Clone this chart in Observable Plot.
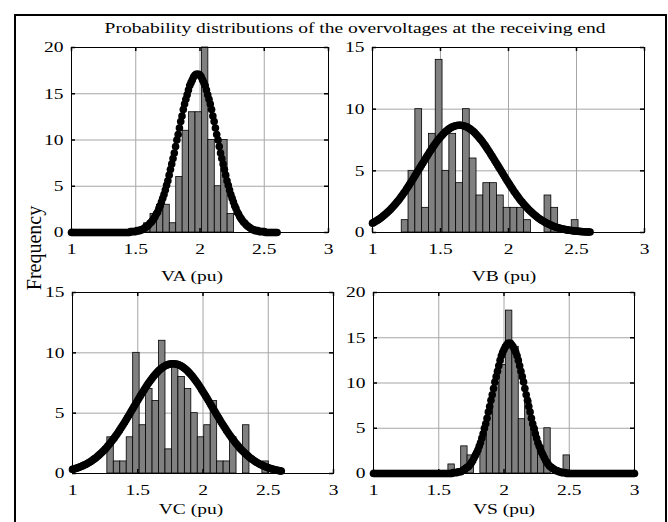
<!DOCTYPE html>
<html>
<head>
<meta charset="utf-8">
<script src="https://cdn.jsdelivr.net/npm/d3@7"></script>
<script src="https://cdn.jsdelivr.net/npm/@observablehq/plot@0.6"></script>
<style>
  html, body { margin: 0; padding: 0; background: #fff; }
  #fig { position: relative; width: 668px; height: 522px; overflow: hidden; background: #fff; }
  #fig svg { position: absolute; left: 0; top: 0; overflow: visible; }
</style>
</head>
<body>
<div id="fig"></div>
<script>
// ---------------- DATA ----------------
const titleText = "Probability distributions of the overvoltages at the receiving end";
const yLabelText = "Frequency";
const panelLabels = ["VA (pu)", "VB (pu)", "VC (pu)", "VS (pu)"];
const xTicks = [1, 1.5, 2, 2.5, 3];
const yTicks20 = [0, 5, 10, 15, 20];
const yTicks15 = [0, 5, 10, 15];

// histogram bin counts (left edge of first bin, bin width, counts)
const vaStart = 1.565, vaWidth = 0.05;
const vaCounts = [1, 2, 3, 3, 1, 6, 11, 13, 13, 20, 10, 5, 10, 2];
const vbStart = 1.215, vbWidth = 0.05;
const vbCounts = [1, 5, 10, 2, 8, 14, 5, 8, 4, 10, 6, 3, 4, 4, 3, 2, 2, 2, 1, 0, 0, 3, 2, 0, 0, 1];
const vcStart = 1.267, vcWidth = 0.0495;
const vcCounts = [3, 1, 1, 3, 10, 4, 7, 6, 11, 2, 9, 8, 7, 5, 3, 4, 6, 1, 1, 3, 0, 4, 0, 0, 1];
const vsStart = 1.574, vsWidth = 0.049;
const vsCounts = [1, 0, 3, 2, 0, 4, 7, 10, 12, 18, 14, 6, 8, 5, 3, 5, 0, 0, 2];

// fitted-curve values read at x = 1.00, 1.01, 1.02, ...
const curveStep = 0.01;
const vaCurve = [
  0,0,0,0,0,0,0,0,0,0, 0,0,0,0,0,0,0,0,0,0, 0,0,0,0,0,0,0,0,0,0, 0,0,0,0,0,0,0,0,0,0, 0,0,0,0,0,0,
  0.1,0.1,0.1,0.1,0.1, 0.2,0.2,0.2,0.3,0.3, 0.4,0.5,0.6,0.7,0.8, 1.0,1.1,1.3,1.5,1.7,
  2.0,2.2,2.6,2.9,3.3, 3.7,4.1,4.6,5.1,5.6, 6.2,6.8,7.4,8.0,8.6, 9.3,10.0,10.6,11.3,12.0,
  12.6,13.3,13.9,14.4,14.9, 15.4,15.9,16.2,16.5,16.8, 17.0,17.1,17.1, 17.1,17.0,
  16.8,16.5,16.2,15.9,15.4, 14.9,14.4,13.9,13.3,12.6, 12.0,11.3,10.6,10.0,9.3, 8.6,8.0,7.4,6.8,6.2,
  5.6,5.1,4.6,4.1,3.7, 3.3,2.9,2.6,2.2,2.0, 1.7,1.5,1.3,1.1,1.0, 0.8,0.7,0.6,0.5,0.4,
  0.3,0.3,0.2,0.2,0.2, 0.1,0.1,0.1,0.1,0.1,
  0,0,0,0,0,0,0,0,0,0
];
const vbCurve = [
  0.76,0.82,0.89,0.95,1.02,1.10,1.18,1.26,1.35,1.44,
  1.54,1.64,1.74,1.85,1.96,2.08,2.21,2.33,2.47,2.60,
  2.74,2.89,3.04,3.20,3.35,3.52,3.69,3.86,4.03,4.20,
  4.38,4.56,4.74,4.92,5.10,5.28,5.46,5.64,5.82,6.00,
  6.17,6.35,6.52,6.69,6.86,7.02,7.18,7.33,7.47,7.61,
  7.74,7.87,7.99,8.10,8.20,8.29,8.38,8.45,8.52,8.57,
  8.62,8.65,8.68,8.69,8.70,
  8.69,8.68,8.65,8.62,8.57,8.52,8.45,8.38,8.29,8.20,
  8.10,7.99,7.87,7.74,7.61,7.47,7.33,7.18,7.02,6.86,
  6.69,6.52,6.35,6.17,6.00,5.82,5.64,5.46,5.28,5.10,
  4.92,4.74,4.56,4.38,4.20,4.03,3.86,3.69,3.52,3.35,
  3.20,3.04,2.89,2.74,2.60,2.47,2.33,2.21,2.08,1.96,
  1.85,1.74,1.64,1.54,1.44,1.35,1.26,1.18,1.10,1.02,
  0.95,0.89,0.82,0.76,0.71,0.65,0.60,0.56,0.51,0.47,
  0.43,0.40,0.37,0.34,0.31,0.28,0.26,0.23,0.21,0.19,
  0.18,0.16,0.15,0.13,0.12,0.11,0.10,0.09,0.08,0.07,
  0.06,0.06,0.05,0.05,0.04,0.04
];
const vcCurve = [
  0.34,0.37,0.40,0.43,0.47,0.51,0.55,0.60,0.65,0.70,
  0.75,0.81,0.87,0.93,1.00,1.07,1.15,1.23,1.31,1.40,
  1.50,1.59,1.69,1.80,1.91,2.02,2.14,2.27,2.40,2.53,
  2.67,2.81,2.95,3.10,3.25,3.41,3.57,3.74,3.91,4.08,
  4.25,4.43,4.61,4.79,4.97,5.15,5.34,5.52,5.70,5.89,
  6.07,6.25,6.43,6.61,6.78,6.95,7.12,7.29,7.45,7.60,
  7.75,7.89,8.03,8.16,8.28,8.40,8.51,8.61,8.70,8.78,
  8.86,8.92,8.97,9.02,9.05,9.08,9.09,
  9.10,
  9.09,9.08,9.05,9.02,8.97,8.92,8.86,8.78,8.70,8.61,
  8.51,8.40,8.28,8.16,8.03,7.89,7.75,7.60,7.45,7.29,
  7.12,6.95,6.78,6.61,6.43,6.25,6.07,5.89,5.70,5.52,
  5.34,5.15,4.97,4.79,4.61,4.43,4.25,4.08,3.91,3.74,
  3.57,3.41,3.25,3.10,2.95,2.81,2.67,2.53,2.40,2.27,
  2.14,2.02,1.91,1.80,1.69,1.59,1.50,1.40,1.31,1.23,
  1.15,1.07,1.00,0.93,0.87,0.81,0.75,0.70,0.65,0.60,
  0.55,0.51,0.47,0.43,0.40,0.37,0.34,0.31,0.28,0.26,
  0.24,0.22,0.20
];
const vsCurve = [
  0,0,0,0,0,0,0,0,0,0, 0,0,0,0,0,0,0,0,0,0, 0,0,0,0,0,0,0,0,0,0,
  0,0,0,0,0,0,0,0,0,0, 0,0,0,0,0,0,0,0,0,0, 0,0,0,0,0,0,0,0,0,0, 0,
  0.1,0.1,0.1,0.1, 0.2,0.2,0.2,0.3,0.4, 0.5,0.6,0.7,0.8,1.0, 1.2,1.4,1.7,2.0,2.3,
  2.6,3.0,3.4,3.9,4.4, 5.0,5.5,6.1,6.8,7.4, 8.1,8.7,9.4,10.1,10.7, 11.3,11.9,12.5,13.0,13.4,
  13.7,14.0,14.2,14.4,
  14.4,
  14.4,14.2,14.0,13.7,13.4, 13.0,12.5,11.9,11.3,10.7, 10.1,9.4,8.7,8.1,7.4, 6.8,6.1,5.5,5.0,4.4,
  3.9,3.4,3.0,2.6,2.3, 2.0,1.7,1.4,1.2,1.0, 0.8,0.7,0.6,0.5,0.4, 0.3,0.3,0.2,0.2,0.1,
  0.1,0.1,0.1,
  0,0,0,0,0,0,0,0,0,0, 0,0,0,0,0,0,0,0,0,0, 0,0,0,0,0,0,0,0,0,0,
  0,0,0,0,0,0,0,0,0,0, 0,0,0,0,0,0,0,0,0,0, 0,0,0
];

// ---------------- LAYOUT ----------------
const W = 668, H = 522;
const FONT = '"Liberation Serif", "Times New Roman", serif';
const FS = 15;       // font size
const SX = 1.3;      // horizontal stretch of the lettering in the reference

function stretchTexts(svg) {
  svg.querySelectorAll("text").forEach(t => {
    const tr = t.getAttribute("transform");
    if (tr) {
      t.setAttribute("transform", tr + ` scale(${SX},1)`);
    } else {
      const x = +(t.getAttribute("x") || 0), y = +(t.getAttribute("y") || 0);
      t.removeAttribute("x"); t.removeAttribute("y");
      t.setAttribute("transform", `translate(${x},${y}) scale(${SX},1)`);
    }
  });
}

function panel({counts, start, width, curve, yMax, yTicks, box}) {
  const bins = counts
    .map((c, i) => ({x1: start + i * width, x2: start + (i + 1) * width, c}))
    .filter(d => d.c > 0);
  const pts = curve.map((y, i) => ({x: 1 + i * curveStep, y}));
  const ph = box.b - box.t, pw = box.r - box.l;
  const svg = Plot.plot({
    width: W, height: H,
    marginLeft: box.l, marginRight: W - box.r, marginTop: box.t, marginBottom: H - box.b,
    style: {fontFamily: FONT, fontSize: FS + "px", color: "#000", background: "none", overflow: "visible"},
    x: {domain: [1, 3]},
    y: {domain: [0, yMax]},
    marks: [
      Plot.gridX(xTicks, {stroke: "#a6a6a6", strokeOpacity: 1, strokeWidth: 1}),
      Plot.gridY(yTicks, {stroke: "#a6a6a6", strokeOpacity: 1, strokeWidth: 1}),
      Plot.rectY(bins, {x1: "x1", x2: "x2", y: "c", fill: "#808080", stroke: "#000", strokeWidth: 0.8}),
      Plot.line(pts, {x: "x", y: "y", stroke: "#000", strokeWidth: 2}),
      Plot.dot(pts, {x: "x", y: "y", r: 3.8, fill: "#000", stroke: "none"}),
      Plot.frame({stroke: "#000", strokeWidth: 1}),
      Plot.tickX(xTicks, {x: d => d, insetBottom: ph - 4, stroke: "#000", strokeWidth: 1.5}),
      Plot.tickX(xTicks, {x: d => d, insetTop: ph - 4, stroke: "#000", strokeWidth: 1.5}),
      Plot.tickY(yTicks, {y: d => d, insetRight: pw - 4, stroke: "#000", strokeWidth: 1.5}),
      Plot.tickY(yTicks, {y: d => d, insetLeft: pw - 4, stroke: "#000", strokeWidth: 1.5}),
      Plot.axisX(xTicks, {tickSize: 0, tickPadding: 11, tickFormat: d => String(d), label: null}),
      Plot.axisY(yTicks, {tickSize: 0, tickPadding: 8, tickFormat: d => String(d), label: null})
    ]
  });
  stretchTexts(svg);
  return svg;
}

const fig = document.getElementById("fig");
const panels = [
  {counts: vaCounts, start: vaStart, width: vaWidth, curve: vaCurve, yMax: 20, yTicks: yTicks20, box: {l: 71, r: 328, t: 47, b: 232}},
  {counts: vbCounts, start: vbStart, width: vbWidth, curve: vbCurve, yMax: 15, yTicks: yTicks15, box: {l: 372, r: 644, t: 47, b: 232}},
  {counts: vcCounts, start: vcStart, width: vcWidth, curve: vcCurve, yMax: 15, yTicks: yTicks15, box: {l: 72, r: 333, t: 292, b: 473}},
  {counts: vsCounts, start: vsStart, width: vsWidth, curve: vsCurve, yMax: 20, yTicks: yTicks20, box: {l: 373, r: 634, t: 292, b: 473}}
];
panels.forEach(p => fig.appendChild(panel(p)));

// titles / labels / outer border
const ov = d3.create("svg").attr("width", W).attr("height", H)
  .style("font-family", FONT).style("font-size", FS + "px");
ov.append("path").attr("d", `M15,${H + 10}V15H666V${H + 10}`).attr("fill", "none").attr("stroke", "#000").attr("stroke-width", 2);
ov.append("text").attr("text-anchor", "middle").attr("transform", `translate(355,33) scale(${SX},1)`).text(titleText);
ov.append("text").attr("text-anchor", "middle").style("font-size", "20px")
  .attr("transform", `translate(41,248) rotate(-90)`).text(yLabelText);
const labelPos = [[192, 281], [504, 281], [191, 514], [504, 514]];
panelLabels.forEach((t, i) => {
  ov.append("text").attr("text-anchor", "middle")
    .attr("transform", `translate(${labelPos[i][0]},${labelPos[i][1]}) scale(${SX},1)`).text(t);
});
fig.appendChild(ov.node());
</script>
</body>
</html>
